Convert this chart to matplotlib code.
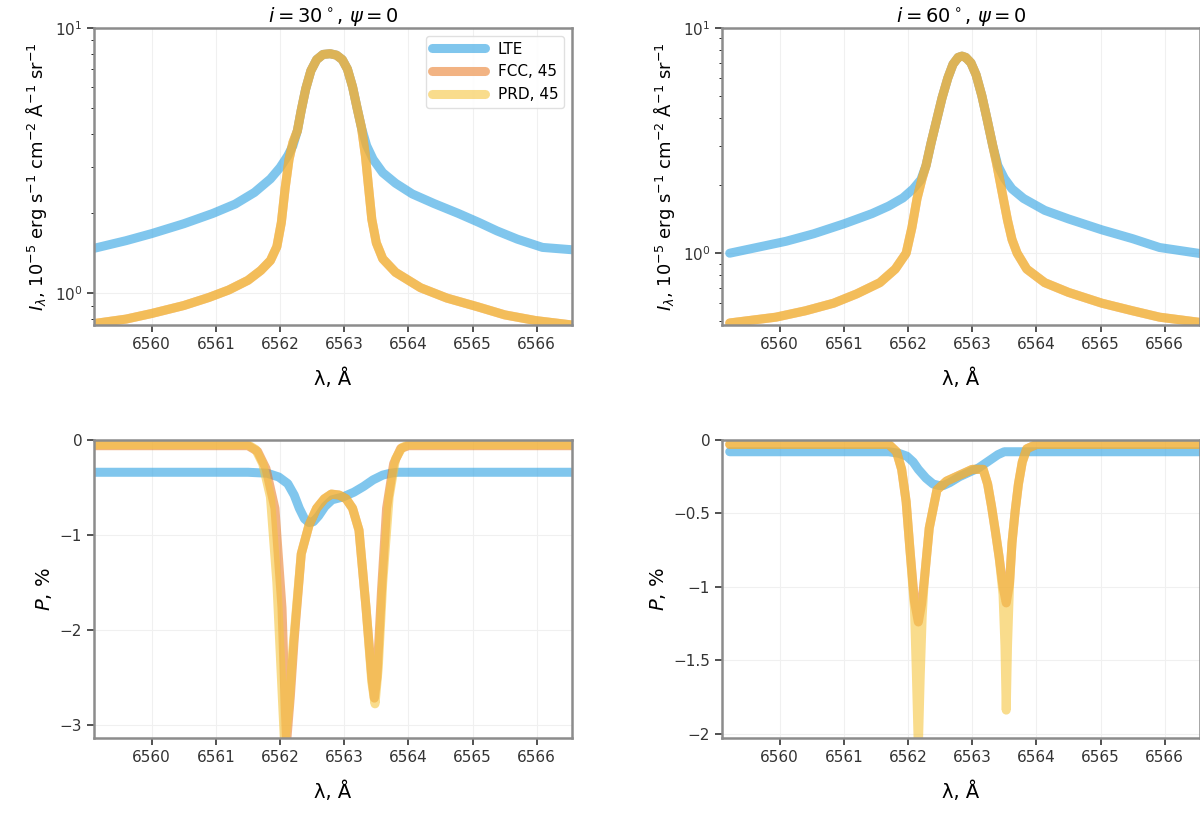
import numpy as np
import matplotlib
import matplotlib.pyplot as plt
import matplotlib.ticker as mtick

matplotlib.use('agg')

# series labels
LABELS = ['LTE', 'FCC, 45', 'PRD, 45']
TITLES = [r'$i = 30^\circ$, $\psi = 0$', r'$i = 60^\circ$, $\psi = 0$']

# --- top left: intensity, log scale ---
tl_core_wl = [6562.33, 6562.4, 6562.48, 6562.57, 6562.67, 6562.78, 6562.88, 6562.97, 6563.05,
              6563.13, 6563.2, 6563.27]
tl_core_I = [4.9, 5.9, 6.9, 7.6, 7.95, 8.0, 7.9, 7.6, 7.0,
             6.0, 5.0, 4.2]
tl_twr_wl = ([6559.11, 6559.6, 6560.0, 6560.5, 6560.95, 6561.3, 6561.6, 6561.85, 6562.0,
              6562.12, 6562.2, 6562.27] + tl_core_wl +
             [6563.35, 6563.45, 6563.6, 6563.8, 6564.06, 6564.4, 6564.78, 6565.1, 6565.38,
              6565.7, 6566.09, 6566.55])
tl_twr_I = ([1.48, 1.58, 1.68, 1.83, 2.0, 2.17, 2.4, 2.7, 2.98,
             3.3, 3.6, 4.1] + tl_core_I +
            [3.6, 3.2, 2.85, 2.6, 2.37, 2.18, 2.0, 1.85, 1.72,
             1.6, 1.49, 1.46])
tl_prd_wl = ([6559.11, 6559.6, 6560.0, 6560.5, 6560.89, 6561.2, 6561.5, 6561.7, 6561.85,
              6561.95, 6562.02, 6562.08, 6562.14, 6562.2, 6562.27] + tl_core_wl +
             [6563.33, 6563.38, 6563.43, 6563.5, 6563.6, 6563.8, 6564.19, 6564.6, 6565.08,
              6565.5, 6565.98, 6566.55])
tl_prd_I = ([0.77, 0.8, 0.84, 0.9, 0.965, 1.03, 1.12, 1.22, 1.33,
             1.5, 1.85, 2.5, 3.2, 3.7, 4.1] + tl_core_I +
            [3.3, 2.5, 1.9, 1.55, 1.35, 1.2, 1.05, 0.96, 0.89,
             0.83, 0.79, 0.76])
tl_fcc_wl = tl_prd_wl
tl_fcc_I = tl_prd_I

# --- top right ---
tr_core_wl = [6562.36, 6562.45, 6562.53, 6562.62, 6562.7, 6562.78, 6562.84, 6562.9, 6562.98,
              6563.06, 6563.15, 6563.23, 6563.32]
tr_core_I = [3.1, 3.95, 4.9, 6.0, 6.9, 7.4, 7.5, 7.4, 7.0,
             6.2, 5.0, 3.95, 3.0]
tr_twr_wl = ([6559.22, 6559.64, 6560.1, 6560.53, 6561.0, 6561.44, 6561.7, 6561.92, 6562.08,
              6562.2, 6562.28] + tr_core_wl +
             [6563.4, 6563.5, 6563.62, 6563.8, 6564.13, 6564.5, 6565.02, 6565.5, 6565.92,
              6566.62])
tr_twr_I = ([1.0, 1.06, 1.13, 1.22, 1.35, 1.5, 1.62, 1.76, 1.93,
             2.12, 2.45] + tr_core_I +
            [2.45, 2.15, 1.93, 1.75, 1.55, 1.42, 1.27, 1.16, 1.06,
             0.99])
tr_prd_wl = ([6559.22, 6559.94, 6560.4, 6560.84, 6561.2, 6561.56, 6561.8, 6561.97, 6562.06,
              6562.14, 6562.22, 6562.28] + tr_core_wl +
             [6563.38, 6563.46, 6563.55, 6563.62, 6563.7, 6563.85, 6564.13, 6564.5, 6565.02,
              6565.5, 6565.92, 6566.62])
tr_prd_I = ([0.49, 0.52, 0.555, 0.6, 0.66, 0.74, 0.85, 1.0, 1.3,
             1.75, 2.15, 2.45] + tr_core_I +
            [2.5, 1.9, 1.4, 1.15, 1.0, 0.85, 0.74, 0.67, 0.6,
             0.555, 0.52, 0.49])
tr_fcc_wl = tr_prd_wl
tr_fcc_I = tr_prd_I

# --- bottom left: polarization ---
bl_twr_wl = [6559.11, 6561.5, 6561.8, 6561.98, 6562.12, 6562.22, 6562.3, 6562.38, 6562.45,
             6562.52, 6562.6, 6562.7, 6562.81, 6562.98, 6563.15, 6563.3, 6563.45, 6563.6,
             6563.72, 6563.83, 6566.55]
bl_twr_P = [-0.34, -0.34, -0.35, -0.39, -0.46, -0.58, -0.72, -0.83, -0.87,
            -0.86, -0.8, -0.7, -0.63, -0.6, -0.55, -0.49, -0.42, -0.37,
            -0.35, -0.34, -0.34]
bl_fcc_wl = [6559.11, 6561.5, 6561.65, 6561.78, 6561.92, 6562.03, 6562.1, 6562.16, 6562.22,
             6562.33, 6562.45, 6562.57, 6562.69, 6562.8, 6562.92, 6563.03, 6563.13, 6563.23,
             6563.34, 6563.43, 6563.47, 6563.51, 6563.58, 6563.66, 6563.77, 6563.88, 6564.0,
             6566.55]
bl_fcc_P = [-0.06, -0.06, -0.12, -0.3, -0.72, -1.77, -3.2, -2.7, -2.1,
            -1.2, -0.9, -0.72, -0.62, -0.57, -0.58, -0.62, -0.72, -0.95,
            -1.77, -2.5, -2.72, -2.5, -1.6, -0.72, -0.25, -0.09, -0.06,
            -0.06]
bl_prd_wl = [6559.11, 6561.5, 6561.62, 6561.73, 6561.85, 6561.95, 6562.07, 6562.14, 6562.2,
             6562.33, 6562.45, 6562.57, 6562.69, 6562.8, 6562.92, 6563.03, 6563.13, 6563.23,
             6563.34, 6563.43, 6563.48, 6563.53, 6563.6, 6563.7, 6563.8, 6563.9, 6564.0,
             6566.55]
bl_prd_P = [-0.05, -0.05, -0.1, -0.25, -0.6, -1.5, -3.2, -2.8, -2.2,
            -1.2, -0.9, -0.72, -0.62, -0.57, -0.58, -0.62, -0.72, -0.95,
            -1.77, -2.55, -2.78, -2.4, -1.5, -0.6, -0.2, -0.08, -0.05,
            -0.05]

# --- bottom right ---
br_twr_wl = [6559.22, 6561.7, 6561.85, 6561.98, 6562.08, 6562.16, 6562.28, 6562.39, 6562.48,
             6562.55, 6562.65, 6562.8, 6562.95, 6563.1, 6563.2, 6563.3, 6563.4, 6563.5,
             6563.65, 6563.8, 6566.62]
br_twr_P = [-0.08, -0.08, -0.09, -0.11, -0.15, -0.2, -0.26, -0.3, -0.31,
            -0.31, -0.29, -0.25, -0.22, -0.19, -0.16, -0.13, -0.1, -0.08,
            -0.08, -0.08, -0.08]
br_fcc_wl = [6559.22, 6561.7, 6561.82, 6561.9, 6561.97, 6562.03, 6562.1, 6562.16, 6562.21,
             6562.25, 6562.33, 6562.45, 6562.6, 6562.8, 6563.0, 6563.17, 6563.24, 6563.3,
             6563.36, 6563.42, 6563.48, 6563.53, 6563.58, 6563.62, 6563.67, 6563.72, 6563.78,
             6563.85, 6564.0, 6566.62]
br_fcc_P = [-0.03, -0.03, -0.08, -0.2, -0.42, -0.75, -1.1, -1.24, -1.12,
            -0.97, -0.6, -0.34, -0.28, -0.24, -0.2, -0.2, -0.3, -0.45,
            -0.62, -0.8, -1.0, -1.11, -0.98, -0.7, -0.48, -0.3, -0.15,
            -0.06, -0.03, -0.03]
br_prd_wl = [6559.22, 6561.7, 6561.82, 6561.9, 6561.97, 6562.03, 6562.1, 6562.13, 6562.16,
             6562.19, 6562.22, 6562.25, 6562.33, 6562.45, 6562.6, 6562.8, 6563.0, 6563.17,
             6563.24, 6563.3, 6563.36, 6563.42, 6563.48, 6563.51, 6563.53, 6563.55, 6563.58,
             6563.62, 6563.67, 6563.72, 6563.78, 6563.85, 6564.0, 6566.62]
br_prd_P = [-0.03, -0.03, -0.08, -0.2, -0.42, -0.75, -1.15, -1.6, -2.1,
            -1.6, -1.2, -0.97, -0.6, -0.34, -0.28, -0.24, -0.2, -0.2,
            -0.3, -0.45, -0.62, -0.8, -1.05, -1.4, -1.84, -1.4, -1.0,
            -0.7, -0.48, -0.3, -0.15, -0.06, -0.03, -0.03]

COLORS = ['#4aaee6', '#e8761e', '#f5c540']
ALPHAS = [0.7, 0.55, 0.6]
LW = 6.5
GRAY = '#8c8c8c'

fig = plt.figure(figsize=(12, 8.16), dpi=100)
W = 478 / 1200
H_TOP = (325 - 28) / 816
H_BOT = (738 - 440) / 816
axes = [
    fig.add_axes([94 / 1200, 1 - 325 / 816, W, H_TOP]),
    fig.add_axes([722 / 1200, 1 - 325 / 816, W, H_TOP]),
    fig.add_axes([94 / 1200, 1 - 738 / 816, W, H_BOT]),
    fig.add_axes([722 / 1200, 1 - 738 / 816, W, H_BOT]),
]

panels = [
    [(tl_twr_wl, tl_twr_I), (tl_fcc_wl, tl_fcc_I), (tl_prd_wl, tl_prd_I)],
    [(tr_twr_wl, tr_twr_I), (tr_fcc_wl, tr_fcc_I), (tr_prd_wl, tr_prd_I)],
    [(bl_twr_wl, bl_twr_P), (bl_fcc_wl, bl_fcc_P), (bl_prd_wl, bl_prd_P)],
    [(br_twr_wl, br_twr_P), (br_fcc_wl, br_fcc_P), (br_prd_wl, br_prd_P)],
]

for ax, series in zip(axes, panels):
    for (wl, val), c, a, lab in zip(series, COLORS, ALPHAS, LABELS):
        ax.plot(wl, val, color=c, alpha=a, lw=LW, solid_capstyle='round',
                solid_joinstyle='round', label=lab)
    ax.set_xlim(6559.1, 6566.55)
    ax.xaxis.set_major_locator(mtick.MultipleLocator(1))
    ax.xaxis.set_major_formatter(mtick.FormatStrFormatter('%d'))
    ax.set_xlabel('λ, Å', fontsize=14, labelpad=12)
    ax.tick_params(labelsize=11, colors='#333333', width=1.2, length=5)
    for sp in ax.spines.values():
        sp.set_color(GRAY)
        sp.set_linewidth(1.8)
    ax.grid(color='#f0f0f0', lw=0.8)

ylab_top = r'$I_\lambda$, $10^{-5}$ erg s$^{-1}$ cm$^{-2}$ Å$^{-1}$ sr$^{-1}$'
for ax, title, ylim in zip(axes[:2], TITLES, [(0.76, 10), (0.48, 10)]):
    ax.set_yscale('log')
    ax.set_ylim(*ylim)
    ax.yaxis.set_minor_formatter(mtick.NullFormatter())
    ax.set_ylabel(ylab_top, fontsize=13)
    ax.set_title(title, fontsize=14, pad=4)

pct_fmt = mtick.FuncFormatter(lambda v, p: ('%g' % v).replace('-', '\u2212'))
axes[2].set_ylim(-3.14, 0.0)
axes[2].yaxis.set_major_locator(mtick.MultipleLocator(1))
axes[3].set_ylim(-2.03, 0.0)
axes[3].yaxis.set_major_locator(mtick.MultipleLocator(0.5))
for ax in axes[2:]:
    ax.yaxis.set_major_formatter(pct_fmt)
    ax.set_ylabel('$P$, %', fontsize=14)

leg = axes[0].legend(loc='upper right', fontsize=11, handlelength=3.5,
                     framealpha=0.9, edgecolor='#dddddd')

fig.savefig('out.png', dpi=100)
